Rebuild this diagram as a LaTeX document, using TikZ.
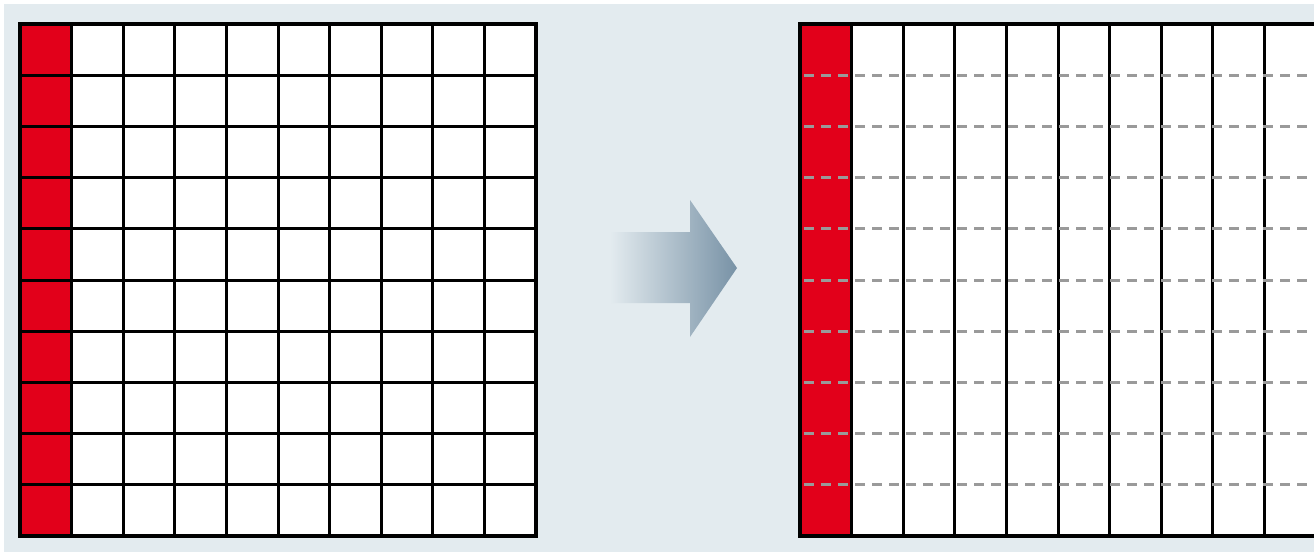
\documentclass[tikz,border=0pt]{standalone}
\usetikzlibrary{calc}
\definecolor{bg}{HTML}{E3EBEF}
\definecolor{cellred}{HTML}{E2001A}
\definecolor{dashgray}{HTML}{9A9A9A}
\definecolor{arrowdark}{HTML}{7892A6}
\tikzset{
  gridline/.style={line width=3pt,black},
  frameline/.style={line width=4pt,black},
  sepline/.style={line width=3pt,dashgray,dash pattern=on 10pt off 7pt,dash phase=-2pt},
}
\begin{document}
\begin{tikzpicture}[x=1pt,y=-1pt]
\useasboundingbox (0,0) rectangle (1314,552);
\clip (0,0) rectangle (1314,552);
\fill[white] (0,0) rectangle (1314,552);
\fill[bg] (4,4) rectangle (1314,552);
\def\cw{51.6}
\def\ch{51.2}
% ---------- left grid ----------
\fill[white] (20,24) rectangle (536,536);
\fill[cellred] (20,24) rectangle (71.6,536);
\foreach \k in {1,...,9}{
  \draw[gridline] ({20+\k*\cw},24) -- ({20+\k*\cw},536);
  \draw[gridline] (20,{24+\k*\ch}) -- (536,{24+\k*\ch});
}
\draw[frameline] (20,24) rectangle (536,536);
% ---------- arrow ----------
\shade[left color=bg,right color=arrowdark,shading angle=90]
  (610,232) -- (690,232) -- (690,200) -- (737,268) -- (690,337) -- (690,303) -- (610,303) -- cycle;
% ---------- right grid ----------
\fill[white] (800,24) rectangle (1316,536);
\fill[cellred] (800,24) rectangle (851.6,536);
\foreach \k in {1,...,9}{
  \draw[gridline] ({800+\k*\cw},24) -- ({800+\k*\cw},536);
}
\foreach \k in {1,...,9}{
  \draw[sepline] (802,{24+\k*\ch}) -- (1314,{24+\k*\ch});
}
\draw[frameline] (800,24) rectangle (1316,536);
\end{tikzpicture}
\end{document}
